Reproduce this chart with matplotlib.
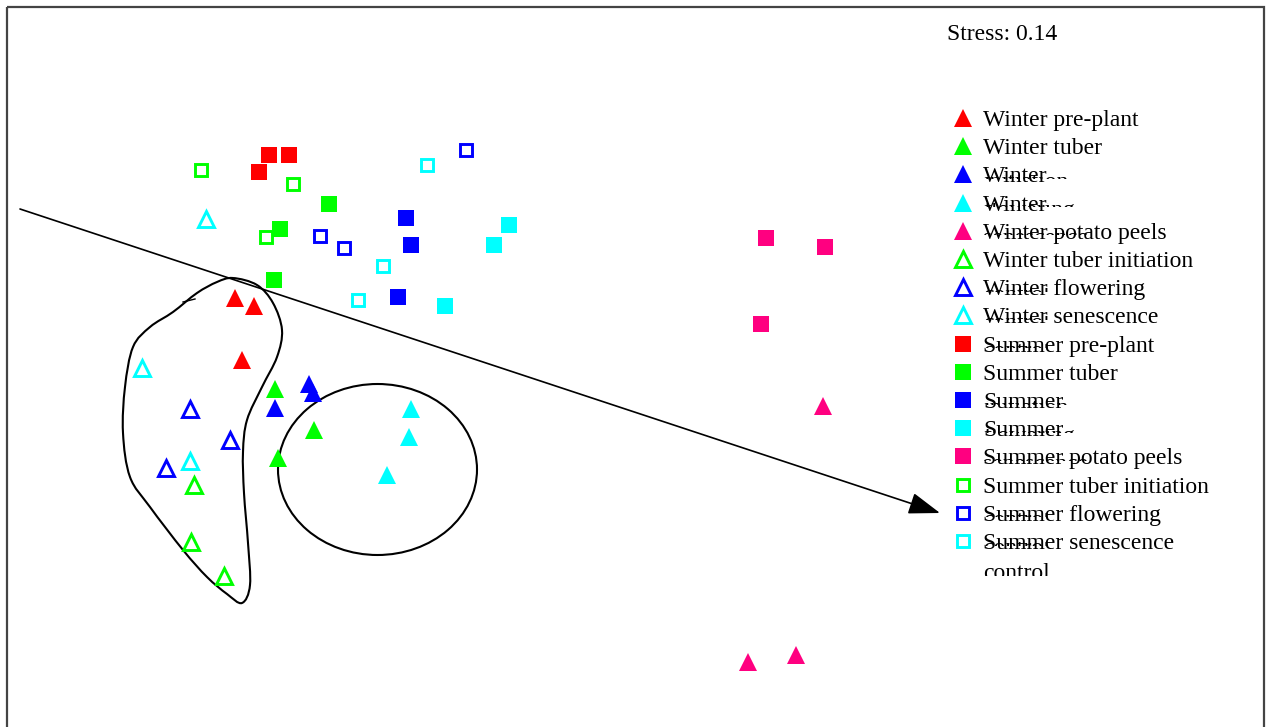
import matplotlib
matplotlib.use('Agg')

import matplotlib.pyplot as plt
from matplotlib.patches import Ellipse, Rectangle, PathPatch
from matplotlib.path import Path
import numpy as np

# ==========================================
# 1. 数据（nMDS 坐标，按图上读数，y 轴向下）
# ==========================================
W_PREPLANT = [[235, 298], [254, 306], [242, 360]]
W_TUBER = [[275, 389], [314, 430], [278, 458]]
W_INIT = [[275, 408], [309, 384], [313, 393]]
W_FLOWER = [[411, 409], [409, 437], [387, 475]]
W_PEELS = [[823, 406], [748, 662], [796, 655]]
W_TUBER_INIT = [[194, 485], [191, 542], [224, 576]]
W_FLOWERING = [[190, 409], [230, 440], [166, 468]]
W_SENESCENCE = [[206, 219], [142, 368], [190, 461]]

S_PREPLANT = [[269, 155], [289, 155], [259, 172]]
S_TUBER = [[329, 204], [280, 229], [274, 280]]
S_INIT = [[406, 218], [411, 245], [398, 297]]
S_FLOWER = [[509, 225], [494, 245], [445, 306]]
S_PEELS = [[766, 238], [825, 247], [761, 324]]
S_TUBER_INIT = [[201, 170], [293, 184], [266, 237]]
S_FLOWERING = [[466, 150], [320, 236], [344, 248]]
S_SENESCENCE = [[427, 165], [383, 266], [358, 300]]

STRESS = 0.14

# 图例：(数据, 标记, 颜色, 是否实心, 第一行, 被挤压的第二行)
RED, GREEN, BLUE, CYAN, PINK = '#FF0000', '#00FF00', '#0000FF', '#00FFFF', '#FF0080'
LEGEND = [
    (W_PREPLANT, '^', RED, True, 'Winter pre-plant', None),
    (W_TUBER, '^', GREEN, True, 'Winter tuber', None),
    (W_INIT, '^', BLUE, True, 'Winter', 'initiation'),
    (W_FLOWER, '^', CYAN, True, 'Winter', 'flowering'),
    (W_PEELS, '^', PINK, True, 'Winter potato peels', 'senescence'),
    (W_TUBER_INIT, '^', GREEN, False, 'Winter tuber initiation', None),
    (W_FLOWERING, '^', BLUE, False, 'Winter flowering', 'control'),
    (W_SENESCENCE, '^', CYAN, False, 'Winter senescence', 'control'),
    (S_PREPLANT, 's', RED, True, 'Summer pre-plant', 'control'),
    (S_TUBER, 's', GREEN, True, 'Summer tuber', None),
    (S_INIT, 's', BLUE, True, 'Summer', 'initiation'),
    (S_FLOWER, 's', CYAN, True, 'Summer', 'flowering'),
    (S_PEELS, 's', PINK, True, 'Summer potato peels', 'senescence'),
    (S_TUBER_INIT, 's', GREEN, False, 'Summer tuber initiation', None),
    (S_FLOWERING, 's', BLUE, False, 'Summer flowering', 'control'),
    (S_SENESCENCE, 's', CYAN, False, 'Summer senescence', 'control'),
]

# 注释线条
ARROW_START = (20, 209)
ARROW_END = (940, 513)
ELLIPSE_CENTER = (377.5, 469.5)
ELLIPSE_SIZE = (199, 171)
BLOB = [(233, 278), (257, 285), (273, 303), (282, 330), (277, 357), (262, 387),
        (247, 420), (243, 452), (244, 493), (248, 543), (250, 585), (242, 603),
        (227, 594), (207, 577), (183, 550), (150, 507), (130, 477), (123, 433),
        (125, 387), (133, 347), (150, 327), (173, 312), (197, 293), (217, 282)]

plt.rcParams['font.family'] = ['Liberation Serif', 'DejaVu Serif']


def marker_kw(marker, color, filled):
    if filled:
        size = 12.5 if marker == '^' else 11
        return dict(marker=marker, markersize=size, markerfacecolor=color,
                    markeredgewidth=0, linestyle='none')
    size = 11 if marker == '^' else 9
    return dict(marker=marker, markersize=size, markerfacecolor='white',
                markeredgecolor=color, markeredgewidth=2.1, linestyle='none')


def smooth_closed_path(pts):
    """闭合 Catmull-Rom -> 三次贝塞尔"""
    p = np.asarray(pts, dtype=float)
    n = len(p)
    verts = [p[0]]
    codes = [Path.MOVETO]
    for i in range(n):
        p0, p1, p2, p3 = p[i - 1], p[i], p[(i + 1) % n], p[(i + 2) % n]
        c1 = p1 + (p2 - p0) / 6.0
        c2 = p2 - (p3 - p1) / 6.0
        verts += [c1, c2, p2]
        codes += [Path.CURVE4] * 3
    return Path(verts, codes)


def clipped_text(x, y, s, y_top, height):
    t = ax.text(x, y, s, fontsize=17, va='baseline', ha='left', clip_on=True)
    t.set_clip_path(Rectangle((x - 5, y_top), 220, height, transform=ax.transData))
    return t


# ==========================================
# 2. 画图
# ==========================================
fig = plt.figure(figsize=(12.66, 7.27), dpi=100)
ax = fig.add_axes([0, 0, 1, 1])
ax.set_xlim(0, 1266)
ax.set_ylim(727, 0)
ax.axis('off')

# 外框（底边在画面之外）
ax.add_patch(Rectangle((7, 7), 1257, 740, fill=False, edgecolor='#444444', lw=1.6))

# 点
for data, marker, color, filled, _, _ in LEGEND:
    arr = np.asarray(data)
    ax.plot(arr[:, 0], arr[:, 1], color=color, **marker_kw(marker, color, filled), zorder=3)

# 圈和箭头
ax.add_patch(Ellipse(ELLIPSE_CENTER, *ELLIPSE_SIZE, fill=False, edgecolor='black', lw=1.5, zorder=2))
ax.add_patch(PathPatch(smooth_closed_path(BLOB), fill=False, edgecolor='black', lw=1.5, zorder=2))
ax.plot([183, 195], [302, 299], color='black', lw=1.0, zorder=2)
ax.annotate('', xy=ARROW_END, xytext=ARROW_START,
            arrowprops=dict(arrowstyle='-|>,head_length=1.3,head_width=0.45',
                            color='black', lw=1.2, shrinkA=0, shrinkB=0,
                            mutation_scale=15), zorder=4)

# Stress
ax.text(947, 40, f'Stress: {STRESS:.2f}', fontsize=17, va='baseline', ha='left')

# 图例（手工排版，复现原图中被挤压重叠的文字）
x_mark, x_text = 963, 983
y0, step = 118, 28.2
for k, (_, marker, color, filled, line1, line2) in enumerate(LEGEND):
    ym = y0 + k * step
    base = ym + 8
    ax.plot([x_mark], [ym], color=color, **marker_kw(marker, color, filled), zorder=3)
    ax.text(x_text, base, line1, fontsize=17, va='baseline', ha='left')
    if line2:
        clipped_text(x_text, base + 5.5, line2, base - 7.5, 4)

# 最后一行只露出上半部
base = y0 + len(LEGEND) * step + 10
clipped_text(x_text, base, 'control', base - 25, 22)

plt.savefig('out.png', dpi=100)
plt.close(fig)
